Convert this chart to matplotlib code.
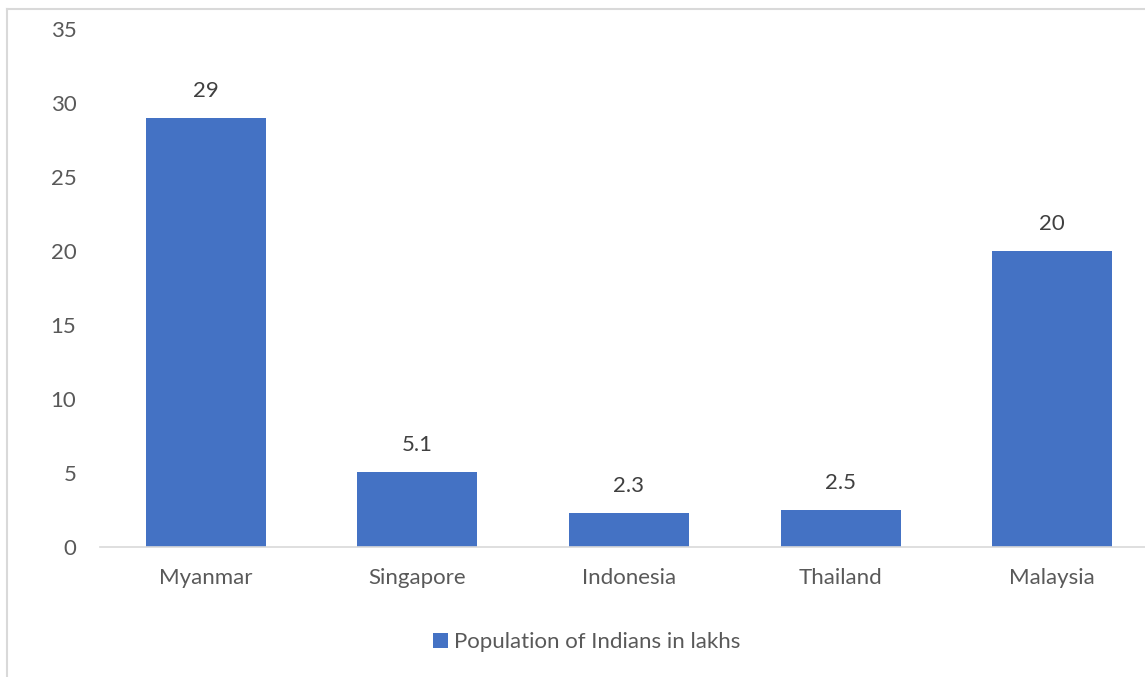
import matplotlib.pyplot as plt
from matplotlib.lines import Line2D
from matplotlib.patches import Patch

countries = ["Myanmar", "Singapore", "Indonesia", "Thailand", "Malaysia"]
population = [29, 5.1, 2.3, 2.5, 20]
labels = ["29", "5.1", "2.3", "2.5", "20"]
series_name = "Population of Indians in lakhs"

BAR_COLOR = "#4472C4"
TEXT_COLOR = "#595959"
LINE_COLOR = "#D9D9D9"
FS = 16

plt.rcParams['font.family'] = ['Lato', 'DejaVu Sans']

fig = plt.figure(figsize=(11.45, 6.77), dpi=100)
ax = fig.add_axes([100 / 1145, 130 / 677, 1058 / 1145, 518 / 677])

x = range(len(countries))
ax.bar(x, population, width=0.567, color=BAR_COLOR, zorder=2)

# Data labels above each bar
for xi, val, lab in zip(x, population, labels):
    ax.annotate(lab, (xi, val), xytext=(0, 17), textcoords='offset pixels',
                ha='center', va='bottom', fontsize=FS, color='#404040')

ax.set_xlim(-0.5, len(countries) - 0.5)
ax.set_ylim(0, 35)
ax.set_yticks(range(0, 36, 5))
ax.set_xticks(list(x))
ax.set_xticklabels(countries)

for side in ['top', 'right', 'left']:
    ax.spines[side].set_visible(False)
ax.spines['bottom'].set_color(LINE_COLOR)
ax.spines['bottom'].set_linewidth(1.2)
ax.tick_params(axis='both', length=0, labelsize=FS, labelcolor=TEXT_COLOR)
ax.tick_params(axis='y', pad=17)
ax.tick_params(axis='x', pad=15)

# Legend below the plot
handles = [Patch(facecolor=BAR_COLOR, edgecolor='none')]
fig.legend(handles, [series_name], loc='center', bbox_to_anchor=(587 / 1145, 1 - 642 / 677),
           frameon=False, fontsize=FS, labelcolor=TEXT_COLOR,
           handlelength=0.65, handleheight=0.65, handletextpad=0.3)

# Chart area border (left and top edges visible)
fig.add_artist(Line2D([7 / 1145, 7 / 1145], [0, 1 - 9 / 677], transform=fig.transFigure,
                      color=LINE_COLOR, linewidth=1.5))
fig.add_artist(Line2D([7 / 1145, 1], [1 - 9 / 677, 1 - 9 / 677], transform=fig.transFigure,
                      color=LINE_COLOR, linewidth=1.5))

fig.savefig('out.png', dpi=100)
